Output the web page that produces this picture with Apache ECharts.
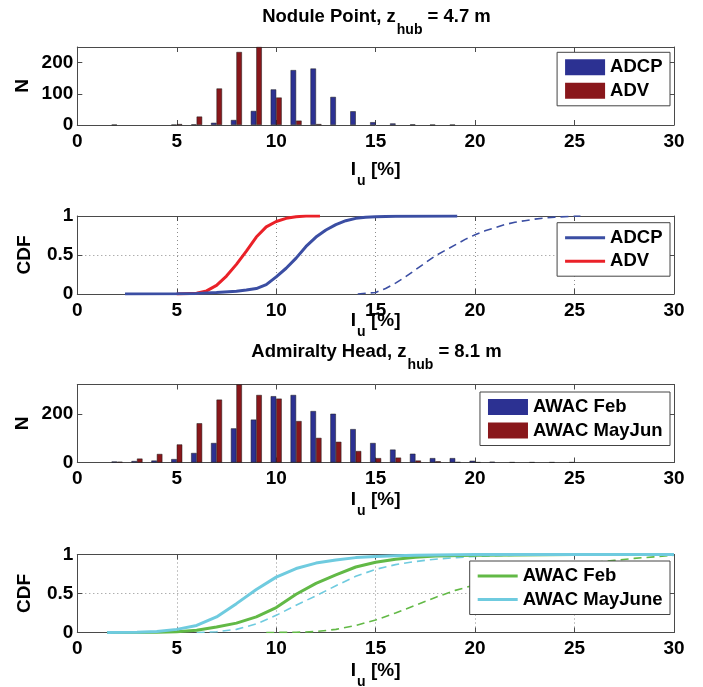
<!DOCTYPE html>
<html>
<head>
<meta charset="utf-8">
<script src="https://cdn.jsdelivr.net/npm/echarts@6/dist/echarts.min.js"></script>
<style>
  html, body { margin: 0; padding: 0; background: #fff; }
  #chart { width: 703px; height: 687px; }
</style>
</head>
<body>
<div id="chart"></div>
<script>
// Histogram bins of turbulence intensity I_u (%)
const bins = [1, 2, 3, 4, 5, 6, 7, 8, 9, 10, 11, 12, 13, 14, 15, 16, 17, 18, 19, 20, 21, 22, 23, 24, 25, 26, 27, 28, 29, 30];

// Nodule Point counts per bin
const noduleAdcpCounts = [0, 1, 0, 0, 1, 2, 7, 16, 45, 114, 176, 181, 90, 44, 9, 5, 2, 1, 1, 0, 0, 0, 0, 0, 0, 0, 0, 0, 0, 0];
const noduleAdvCounts  = [0, 0, 0, 0, 3, 27, 117, 234, 250, 88, 14, 3, 0, 0, 0, 0, 0, 0, 0, 0, 0, 0, 0, 0, 0, 0, 0, 0, 0, 0];

// Admiralty Head counts per bin
const admFebCounts    = [0, 4, 6, 8, 14, 39, 80, 140, 176, 272, 277, 211, 200, 137, 80, 53, 36, 18, 18, 7, 3, 1, 1, 1, 1, 0, 0, 0, 0, 0];
const admMayJunCounts = [0, 3, 16, 35, 74, 161, 258, 320, 277, 262, 170, 101, 85, 47, 18, 20, 8, 5, 2, 1, 0, 0, 0, 0, 0, 0, 0, 0, 0, 0];

// Nodule Point cumulative distributions
const adcpCdfX = [2.4, 5, 6, 7, 8, 8.5, 9, 9.5, 10, 10.5, 11, 11.5, 12, 12.5, 13, 13.5, 14, 14.5, 15, 16, 19.1];
const adcpCdfY = [0, 0.002, 0.008, 0.02, 0.035, 0.05, 0.07, 0.12, 0.22, 0.33, 0.46, 0.61, 0.73, 0.82, 0.89, 0.94, 0.97, 0.985, 0.99, 0.998, 1];
const advCdfX  = [5, 6, 6.5, 7, 7.5, 8, 8.5, 9, 9.5, 10, 10.5, 11, 11.5, 12.2];
const advCdfY  = [0, 0.01, 0.04, 0.11, 0.23, 0.38, 0.55, 0.73, 0.86, 0.93, 0.97, 0.99, 1, 1];
const adcpDashX = [14.1, 15, 15.5, 16, 16.5, 17, 17.5, 18, 18.5, 19, 19.5, 20, 20.5, 21, 21.5, 22, 22.5, 23, 23.5, 24, 25, 25.3];
const adcpDashY = [0, 0.02, 0.07, 0.14, 0.22, 0.31, 0.4, 0.49, 0.56, 0.63, 0.7, 0.76, 0.81, 0.85, 0.89, 0.92, 0.94, 0.96, 0.975, 0.985, 0.998, 1];

// Admiralty Head cumulative distributions
const febCdfX = [1.5, 4, 5, 6, 7, 8, 9, 10, 11, 12, 13, 14, 15, 16, 17, 18, 20, 22, 25, 30];
const febCdfY = [0, 0.004, 0.01, 0.03, 0.07, 0.12, 0.2, 0.32, 0.49, 0.63, 0.74, 0.84, 0.9, 0.94, 0.965, 0.98, 0.99, 0.995, 1, 1];
const mayCdfX = [1.5, 3, 4, 5, 6, 7, 8, 9, 10, 11, 12, 13, 14, 15, 16, 17, 18, 20, 30];
const mayCdfY = [0, 0.003, 0.012, 0.04, 0.09, 0.2, 0.37, 0.55, 0.71, 0.82, 0.89, 0.93, 0.96, 0.975, 0.985, 0.99, 0.995, 1, 1];
const febDashX = [9.5, 11, 12, 13, 14, 15, 16, 17, 18, 19, 20, 21, 22, 23, 24, 25, 26, 27, 28, 29, 30];
const febDashY = [0, 0.003, 0.012, 0.04, 0.09, 0.16, 0.25, 0.35, 0.45, 0.54, 0.61, 0.67, 0.72, 0.77, 0.81, 0.86, 0.9, 0.925, 0.95, 0.97, 0.99];
const mayDashX = [6, 7, 8, 9, 10, 11, 12, 13, 14, 15, 16, 17, 18, 19, 20, 21, 22, 25];
const mayDashY = [0, 0.01, 0.04, 0.11, 0.22, 0.35, 0.47, 0.6, 0.72, 0.81, 0.87, 0.91, 0.94, 0.96, 0.975, 0.985, 0.99, 1];

// Tick labels
const xTicks = [0, 5, 10, 15, 20, 25, 30];
const noduleCountTicks = [0, 100, 200];
const admCountTicks = [0, 200];
const cdfTicks = [0, 0.5, 1];

const FONT = '"Liberation Sans", Arial, Helvetica, sans-serif';
const AXIS = '#4a4a4a';
const BLUE_BAR = '#2c3192';
const RED_BAR = '#89171b';

const pairs = (xs, ys) => xs.map((x, i) => [x, ys[i]]);
// empty bins carry no bar
const nonEmpty = (xs, ys) => pairs(xs, ys).filter(p => p[1] > 0);

const gridTops = [47, 216, 384.5, 554.5];
const xNameGaps = [35, 17, 28, 29];

function bottomXAxis(g, dotted) {
  return {
    type: 'value', gridIndex: g, position: 'bottom', min: 0, max: 30, interval: 5,
    axisLine: { show: true, onZero: false, lineStyle: { color: AXIS, width: 1 } },
    axisTick: { show: true, inside: true, length: 5, lineStyle: { color: AXIS } },
    axisLabel: { color: '#000', fontFamily: FONT, fontWeight: 'bold', fontSize: 19, margin: 7,
                 customValues: xTicks },
    splitLine: { show: dotted, lineStyle: { color: '#8c8c8c', type: [1, 3], width: 1 } },
    name: '{i|I}{u|u}{i| [%]}',
    nameLocation: 'middle', nameGap: xNameGaps[g], nameMoveOverlap: false,
    nameTextStyle: {
      color: '#000', fontFamily: FONT, fontWeight: 'bold', fontSize: 19,
      rich: {
        i: { fontFamily: FONT, fontWeight: 'bold', fontSize: 19, lineHeight: 22, verticalAlign: 'top', color: '#000' },
        u: { fontFamily: FONT, fontWeight: 'bold', fontSize: 14, lineHeight: 14, padding: [14, 0, 0, 1], verticalAlign: 'top', color: '#000' }
      }
    }
  };
}
function topXAxis(g) {
  return {
    type: 'value', gridIndex: g, position: 'top', min: 0, max: 30, interval: 5,
    axisLine: { show: true, onZero: false, lineStyle: { color: AXIS, width: 1 } },
    axisTick: { show: true, inside: true, length: 5, lineStyle: { color: AXIS } },
    axisLabel: { show: false }, splitLine: { show: false }
  };
}
function leftYAxis(g, max, ticks, name, gap, dotted) {
  return {
    type: 'value', gridIndex: g, position: 'left', min: 0, max: max,
    axisLine: { show: true, onZero: false, lineStyle: { color: AXIS, width: 1 } },
    axisTick: { show: true, inside: true, length: 5, lineStyle: { color: AXIS }, customValues: ticks },
    axisLabel: { color: '#000', fontFamily: FONT, fontWeight: 'bold', fontSize: 19, margin: 4, customValues: ticks },
    splitLine: { show: dotted, lineStyle: { color: '#8c8c8c', type: [1, 3], width: 1 } },
    name: name, nameLocation: 'middle', nameGap: gap, nameMoveOverlap: false,
    nameTextStyle: { color: '#000', fontFamily: FONT, fontWeight: 'bold', fontSize: 19 }
  };
}
function rightYAxis(g, max, ticks) {
  return {
    type: 'value', gridIndex: g, position: 'right', min: 0, max: max,
    axisLine: { show: true, onZero: false, lineStyle: { color: AXIS, width: 1 } },
    axisTick: { show: true, inside: true, length: 5, lineStyle: { color: AXIS }, customValues: ticks },
    axisLabel: { show: false, customValues: ticks }, splitLine: { show: false }
  };
}

function legendBox(top, names, iconHeight) {
  return {
    orient: 'vertical', right: 33, top: top, data: names,
    selectedMode: false, icon: 'rect', itemWidth: 40, itemHeight: iconHeight, itemGap: 4.5,
    itemStyle: { borderWidth: 0 },
    padding: [5.5, 7.5, 5.5, 8],
    backgroundColor: '#fff', borderColor: '#444', borderWidth: 1, borderRadius: 0,
    textStyle: { color: '#000', fontFamily: FONT, fontWeight: 'bold', fontSize: 18.5 },
    formatter: (n) => n.replace(' CDF', '')
  };
}

function barSeries(name, g, counts, color) {
  return {
    type: 'bar', name: name, xAxisIndex: 2 * g, yAxisIndex: 2 * g,
    data: nonEmpty(bins, counts), barWidth: 5.5, barGap: '0%',
    itemStyle: { color: color, borderColor: '#1a1a1a', borderWidth: 0.5 },
    emphasis: { disabled: true }, silent: true
  };
}
function lineSeries(name, g, xs, ys, color, dashed) {
  return {
    type: 'line', name: name, xAxisIndex: 2 * g, yAxisIndex: 2 * g,
    data: pairs(xs, ys), symbol: 'none', showSymbol: false, smooth: false,
    lineStyle: dashed ? { color: color, width: 1.6, type: [8, 5] } : { color: color, width: 3 },
    itemStyle: { color: color, borderWidth: 0 },
    emphasis: { disabled: true }, silent: true
  };
}

const titleRich = {
  a: { fontFamily: FONT, fontWeight: 'bold', fontSize: 18.5, lineHeight: 22, verticalAlign: 'top', fill: '#000' },
  s: { fontFamily: FONT, fontWeight: 'bold', fontSize: 14, lineHeight: 16, padding: [16, 0, 0, 1], verticalAlign: 'top', fill: '#000' }
};

const option = {
  animation: false,
  backgroundColor: '#fff',
  grid: gridTops.map(t => ({ left: 77.3, right: 29, top: t, height: 78, containLabel: false, outerBoundsMode: 'none' })),
  xAxis: [
    bottomXAxis(0, false), topXAxis(0),
    bottomXAxis(1, true), topXAxis(1),
    bottomXAxis(2, false), topXAxis(2),
    bottomXAxis(3, true), topXAxis(3)
  ],
  yAxis: [
    leftYAxis(0, 250, noduleCountTicks, 'N', 45, false), rightYAxis(0, 250, noduleCountTicks),
    leftYAxis(1, 1, cdfTicks, 'CDF', 43, true), rightYAxis(1, 1, cdfTicks),
    leftYAxis(2, 320, admCountTicks, 'N', 45, false), rightYAxis(2, 320, admCountTicks),
    leftYAxis(3, 1, cdfTicks, 'CDF', 43, true), rightYAxis(3, 1, cdfTicks)
  ],
  legend: [
    legendBox(52.3, ['ADCP', 'ADV'], 16),
    legendBox(222.7, ['ADCP CDF', 'ADV CDF'], 3),
    legendBox(392, ['AWAC Feb', 'AWAC MayJun'], 16),
    legendBox(561, ['AWAC Feb CDF', 'AWAC MayJune CDF'], 3)
  ],
  graphic: [
    { type: 'text', x: 376.5, y: 7.6, silent: true,
      style: { text: '{a|Nodule Point, z}{s|hub}{a| = 4.7 m}', align: 'center', verticalAlign: 'top', rich: titleRich } },
    { type: 'text', x: 376.5, y: 342.3, silent: true,
      style: { text: '{a|Admiralty Head, z}{s|hub}{a| = 8.1 m}', align: 'center', verticalAlign: 'top', rich: titleRich } }
  ],
  series: [
    barSeries('ADCP', 0, noduleAdcpCounts, BLUE_BAR),
    barSeries('ADV', 0, noduleAdvCounts, RED_BAR),

    lineSeries('ADCP dashed', 1, adcpDashX, adcpDashY, '#3b4ea3', true),
    lineSeries('ADV CDF', 1, advCdfX, advCdfY, '#ea2128', false),
    lineSeries('ADCP CDF', 1, adcpCdfX, adcpCdfY, '#3b4ea3', false),

    barSeries('AWAC Feb', 2, admFebCounts, BLUE_BAR),
    barSeries('AWAC MayJun', 2, admMayJunCounts, RED_BAR),

    lineSeries('AWAC Feb dashed', 3, febDashX, febDashY, '#62b946', true),
    lineSeries('AWAC MayJune dashed', 3, mayDashX, mayDashY, '#6fcbdf', true),
    lineSeries('AWAC Feb CDF', 3, febCdfX, febCdfY, '#62b946', false),
    lineSeries('AWAC MayJune CDF', 3, mayCdfX, mayCdfY, '#6fcbdf', false)
  ]
};

const chart = echarts.init(document.getElementById('chart'), null, { renderer: 'canvas' });
chart.setOption(option);
</script>
</body>
</html>
